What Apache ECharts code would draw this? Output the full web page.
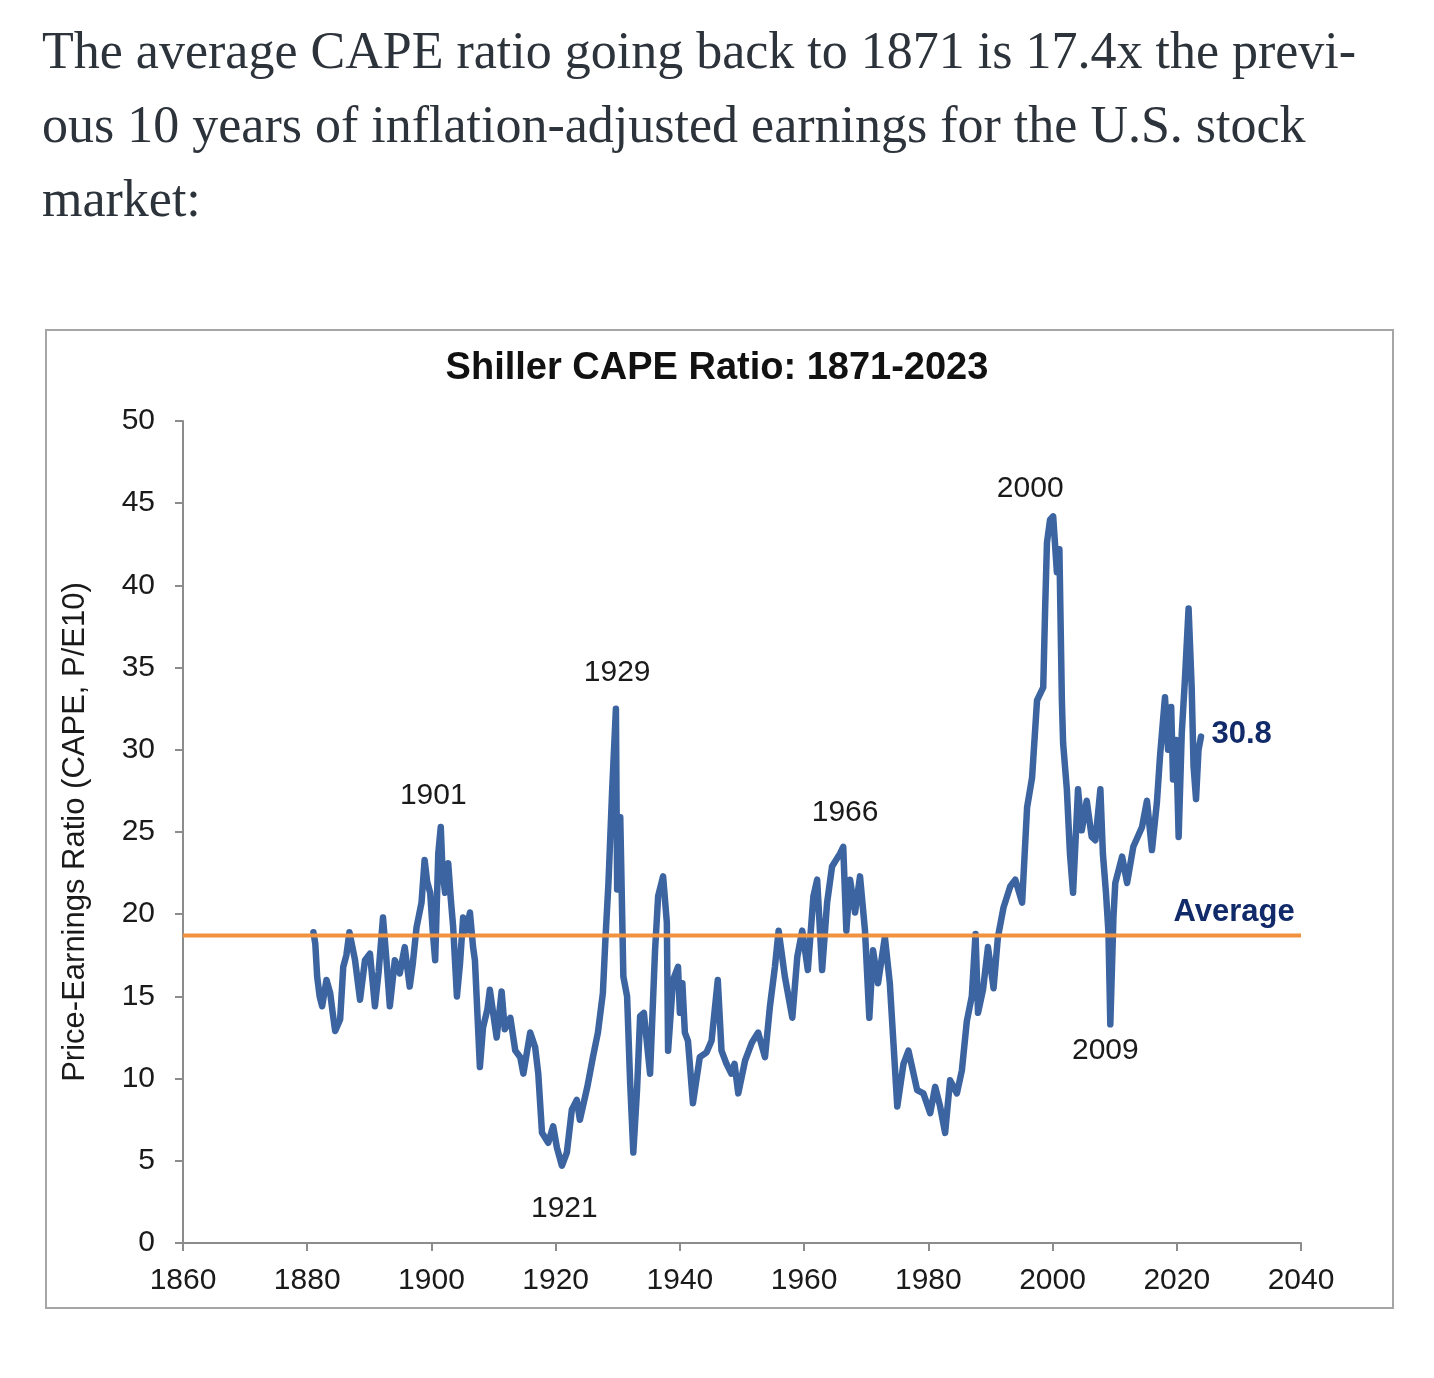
<!DOCTYPE html>
<html>
<head>
<meta charset="utf-8">
<script src="https://cdn.jsdelivr.net/npm/echarts@6/dist/echarts.min.js"></script>
<style>
  html, body { margin: 0; padding: 0; background: #fff; }
  #intro {
    position: absolute; left: 42px; top: 14px;
    font-family: "Liberation Serif", serif; font-size: 52px; color: #2d333b;
    line-height: 74px; white-space: nowrap;
  }
  #cape { position: absolute; left: 0; top: 0; width: 1434px; height: 1378px; }
</style>
</head>
<body>
<div id="cape"></div>
<div id="intro">
  <div>The average CAPE ratio going back to 1871 is 17.4x the previ-</div>
  <div>ous 10 years of inflation-adjusted earnings for the U.S. stock</div>
  <div>market:</div>
</div>
<script>
// CAPE readings (year, ratio)
var years = [
  1881.0, 1881.3, 1881.6, 1882.0, 1882.4, 1883.1, 1883.7, 1884.1, 1884.5, 1885.3,
  1885.8, 1886.3, 1886.8, 1887.7, 1888.5, 1889.3, 1890.1, 1890.9, 1891.5, 1892.2,
  1892.8, 1893.3, 1894.1, 1894.9, 1895.7, 1896.5, 1897.0, 1897.6, 1898.4, 1898.9,
  1899.3, 1899.8, 1900.2, 1900.6, 1901.1, 1901.5, 1901.8, 1902.2, 1902.7, 1903.1,
  1903.5, 1904.1, 1904.6, 1905.1, 1905.6, 1906.2, 1906.7, 1907.0, 1907.8, 1908.3,
  1909.0, 1909.4, 1910.5, 1911.3, 1911.8, 1912.7, 1913.5, 1914.3, 1914.8, 1915.9,
  1916.7, 1917.2, 1917.8, 1918.8, 1919.6, 1920.2, 1921.0, 1921.8, 1922.6, 1923.4,
  1923.9, 1925.1, 1926.0, 1926.8, 1927.6, 1928.0, 1928.5, 1929.1, 1929.7, 1929.9,
  1930.4, 1930.9, 1931.5, 1932.0, 1932.5, 1933.1, 1933.6, 1934.2, 1935.2, 1936.0,
  1936.5, 1937.3, 1937.9, 1938.1, 1938.9, 1939.7, 1940.0, 1940.4, 1940.8, 1941.3,
  1942.1, 1943.2, 1944.3, 1945.1, 1946.1, 1946.7, 1947.5, 1948.3, 1948.8, 1949.4,
  1950.5, 1951.6, 1952.6, 1953.7, 1954.5, 1955.3, 1955.9, 1956.9, 1958.1, 1958.9,
  1959.7, 1960.6, 1961.5, 1962.1, 1962.9, 1963.7, 1964.5, 1965.8, 1966.3, 1966.8,
  1967.4, 1968.2, 1969.0, 1969.8, 1970.5, 1971.1, 1971.9, 1973.0, 1973.8, 1975.0,
  1976.0, 1976.8, 1978.2, 1979.2, 1980.3, 1981.1, 1981.9, 1982.7, 1983.5, 1984.6,
  1985.4, 1986.2, 1987.0, 1987.6, 1988.0, 1988.8, 1989.6, 1990.5, 1991.2, 1992.1,
  1993.2, 1994.0, 1995.1, 1995.9, 1996.7, 1997.5, 1998.5, 1998.8, 1999.1, 1999.6,
  2000.1, 2000.7, 2001.1, 2001.5, 2001.7, 2002.3, 2002.8, 2003.3, 2004.1, 2004.7,
  2005.5, 2006.3, 2006.9, 2007.7, 2008.1, 2008.6, 2009.0, 2009.3, 2009.8, 2010.1,
  2011.2, 2012.0, 2013.0, 2014.4, 2015.2, 2016.0, 2016.8, 2017.3, 2018.1, 2018.6,
  2019.1, 2019.4, 2019.9, 2020.3, 2020.8, 2021.3, 2021.9, 2022.4, 2022.7, 2023.1,
  2023.5, 2023.9
];
var cape = [
  18.9, 18.2, 16.2, 15.0, 14.4, 16.0, 15.2, 14.0, 12.9, 13.6,
  16.8, 17.5, 18.9, 17.2, 14.8, 17.2, 17.6, 14.4, 16.5, 19.8,
  17.0, 14.4, 17.2, 16.4, 18.0, 15.6, 17.0, 19.2, 20.7, 23.3,
  22.0, 21.3, 19.0, 17.2, 23.7, 25.3, 22.5, 21.3, 23.1, 21.0,
  19.2, 15.0, 17.0, 19.8, 19.0, 20.1, 18.0, 17.2, 10.7, 13.1,
  14.2, 15.4, 12.5, 15.3, 13.0, 13.7, 11.7, 11.3, 10.3, 12.8,
  11.9, 10.3, 6.7, 6.1, 7.1, 5.8, 4.7, 5.5, 8.1, 8.7,
  7.5, 9.5, 11.3, 12.8, 15.2, 18.4, 21.9, 27.6, 32.5, 21.5,
  25.9, 16.2, 15.0, 9.7, 5.5, 9.3, 13.8, 14.0, 10.3, 17.8,
  21.1, 22.3, 19.5, 11.7, 16.0, 16.8, 14.0, 15.8, 12.8, 12.3,
  8.5, 11.3, 11.6, 12.3, 16.0, 11.7, 10.9, 10.3, 10.9, 9.1,
  11.1, 12.2, 12.8, 11.3, 14.4, 16.8, 19.0, 16.2, 13.7, 17.4,
  19.0, 16.6, 21.1, 22.1, 16.6, 20.7, 22.9, 23.7, 24.1, 19.0,
  22.1, 20.1, 22.3, 19.0, 13.7, 17.8, 15.8, 18.6, 15.8, 8.3,
  10.9, 11.7, 9.3, 9.1, 7.9, 9.5, 8.3, 6.7, 9.9, 9.1,
  10.5, 13.5, 15.0, 18.8, 14.0, 15.4, 18.0, 15.5, 18.6, 20.4,
  21.7, 22.1, 20.7, 26.5, 28.3, 33.0, 33.8, 38.5, 42.6, 44.0,
  44.2, 40.8, 42.2, 33.0, 30.4, 27.6, 23.7, 21.3, 27.6, 25.1,
  26.9, 24.7, 24.5, 27.6, 23.7, 21.3, 18.9, 13.3, 19.8, 21.9,
  23.5, 21.9, 24.1, 25.3, 26.9, 23.9, 26.8, 29.6, 33.2, 30.0,
  32.6, 28.2, 30.6, 24.7, 31.0, 34.2, 38.6, 33.8, 29.0, 27.0,
  30.0, 30.8
];
var average = 18.7;
var averageSpan = [1860, 2040];

// peak / trough labels
var noteText = ['1901', '1929', '1921', '1966', '2000', '2009'];
var noteYear = [1900.3, 1929.9, 1921.4, 1966.6, 1996.4, 2008.5];
var noteVal  = [27.2, 34.7, 2.1, 26.2, 45.9, 11.7];

var pts = [];
for (var i = 0; i < years.length; i++) {
  pts.push([years[i], cape[i]]);
}
var notes = [];
for (var j = 0; j < noteText.length; j++) {
  notes.push({ name: noteText[j], coord: [noteYear[j], noteVal[j]] });
}

var font = 'Liberation Sans, Arial, sans-serif';
var axisGray = '#8c8c8c';
var chart = echarts.init(document.getElementById('cape'));
chart.setOption({
  animation: false,
  title: {
    text: 'Shiller CAPE Ratio: 1871-2023',
    left: 'center', top: 345,
    textStyle: { fontFamily: font, fontSize: 38, fontWeight: 'bold', color: '#111' }
  },
  grid: { left: 183, right: 133, top: 421, bottom: 135 },
  graphic: [{
    type: 'rect',
    shape: { x: 46, y: 330, width: 1347, height: 978 },
    style: { fill: 'none', stroke: '#a6a6a6', lineWidth: 2 },
    silent: true
  }],
  xAxis: {
    type: 'value', min: 1860, max: 2040, interval: 20,
    axisLine: { show: true, lineStyle: { color: axisGray, width: 2 } },
    axisTick: { show: true, length: 8, lineStyle: { color: axisGray, width: 2 } },
    axisLabel: {
      fontFamily: font, fontSize: 30, color: '#1a1a1a', margin: 23,
      formatter: function (v) { return String(v); }
    },
    splitLine: { show: false }
  },
  yAxis: {
    type: 'value', min: 0, max: 50, interval: 5,
    name: 'Price-Earnings Ratio (CAPE, P/E10)',
    nameLocation: 'middle', nameGap: 92,
    nameTextStyle: { fontFamily: font, fontSize: 31, color: '#1a1a1a' },
    axisLine: { show: true, lineStyle: { color: axisGray, width: 2 } },
    axisTick: { show: true, length: 8, lineStyle: { color: axisGray, width: 2 } },
    axisLabel: { fontFamily: font, fontSize: 30, color: '#1a1a1a', margin: 28 },
    splitLine: { show: false }
  },
  series: [
    {
      name: 'CAPE',
      type: 'line',
      data: pts,
      showSymbol: false,
      lineStyle: { color: '#3b64a0', width: 6.5, join: 'round', cap: 'round' },
      markPoint: {
        symbol: 'circle', symbolSize: 1,
        itemStyle: { color: 'rgba(0,0,0,0)' },
        label: {
          show: true, position: 'inside', formatter: '{b}',
          fontFamily: font, fontSize: 30, color: '#1a1a1a'
        },
        data: notes
      }
    },
    {
      name: 'Average',
      type: 'line',
      data: [[averageSpan[0], average], [averageSpan[1], average]],
      showSymbol: false,
      lineStyle: { color: '#f0923e', width: 4 },
      z: 3,
      markPoint: {
        symbol: 'circle', symbolSize: 1,
        itemStyle: { color: 'rgba(0,0,0,0)' },
        label: {
          show: true, position: 'right', distance: 0, formatter: '{b}',
          fontFamily: font, fontSize: 31, fontWeight: 'bold', color: '#112a6a'
        },
        data: [
          { name: 'Average', coord: [2019.4, 20.1] },
          { name: String(cape[cape.length - 1]), coord: [2025.5, 30.95] }
        ]
      }
    }
  ]
});
</script>
</body>
</html>
